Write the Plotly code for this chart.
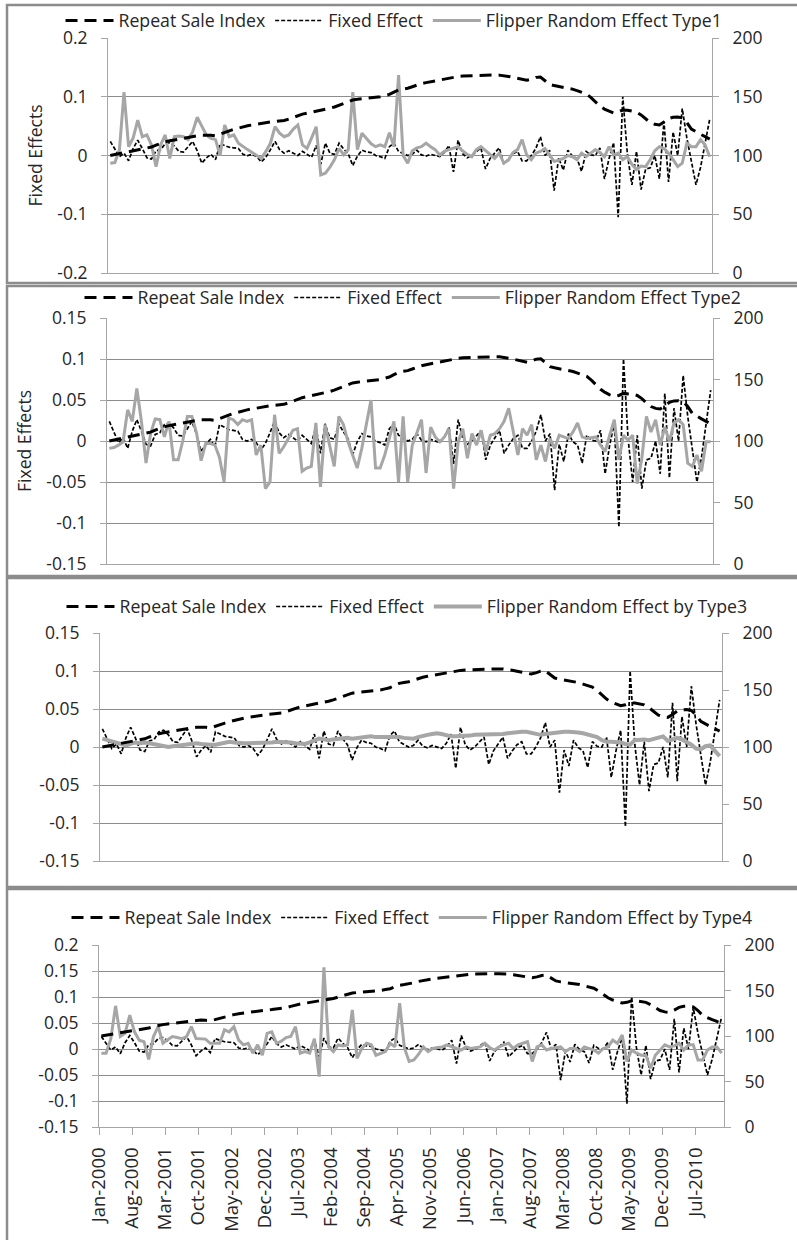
import plotly.graph_objects as go

W, H = 797, 1240

# ---------------- data ----------------
MONTHS = list(range(132))  # Jan-2000 .. Dec-2010

X_TICK_POS = [-0.5, 6.5, 13.5, 20.5, 27.5, 34.5, 41.5, 48.5, 55.5, 62.5,
              69.5, 76.5, 83.5, 90.5, 97.5, 104.5, 111.5, 118.5, 125.5]
X_TICK_LABELS = ["Jan-2000", "Aug-2000", "Mar-2001", "Oct-2001", "May-2002",
                 "Dec-2002", "Jul-2003", "Feb-2004", "Sep-2004", "Apr-2005",
                 "Nov-2005", "Jun-2006", "Jan-2007", "Aug-2007", "Mar-2008",
                 "Oct-2008", "May-2009", "Dec-2009", "Jul-2010"]

REPEAT_SALE_INDEX = [
    100.0, 100.8, 101.8, 102.8, 103.8, 104.6, 105.2, 105.8, 106.5, 107.2,
    108.8, 110.3, 111.6, 112.5, 113.3, 114.0, 114.8, 115.6, 116.2, 116.8,
    117.3, 117.6, 117.3, 116.8, 118.0, 119.5, 121.0, 122.3, 123.5, 124.5,
    125.3, 126.0, 126.8, 127.4, 128.0, 128.6, 129.0, 129.4, 129.8, 131.0,
    132.6, 134.2, 135.2, 136.0, 136.8, 137.5, 138.2, 139.2, 140.2, 141.3,
    142.8, 144.5, 146.2, 147.2, 147.8, 148.2, 148.5, 148.6, 149.2, 150.0,
    151.0, 152.0, 154.0, 155.8, 156.6, 157.2, 158.5, 160.0, 161.2, 162.0,
    162.8, 163.5, 164.2, 165.0, 165.8, 166.5, 167.2, 167.6, 167.8, 168.0,
    168.3, 168.4, 168.5, 168.5, 168.5, 168.4, 168.0, 167.3, 166.5, 165.6,
    164.5, 164.0, 165.0, 166.5, 166.8, 164.0, 160.5, 159.5, 158.8, 158.0,
    157.5, 156.5, 155.2, 153.8, 152.5, 149.5, 146.0, 142.0, 139.5, 137.5,
    136.2, 137.0, 138.7, 138.5, 138.0, 137.0, 134.5, 131.0, 128.0, 126.5,
    126.0, 128.5, 131.5, 132.6, 132.8, 132.0, 128.0, 122.5, 120.0, 118.0,
    116.0, 114.0]

FIXED_EFFECT = [
    0.024, 0.010, -0.002, 0.004, -0.009, 0.012, 0.026, 0.012, -0.004, -0.006,
    0.008, 0.010, 0.020, 0.022, 0.016, 0.007, 0.006, 0.015, 0.024, 0.008,
    -0.013, -0.004, 0.002, -0.007, 0.020, 0.017, 0.014, 0.013, 0.012, 0.002,
    0.000, 0.002, -0.002, -0.011, -0.003, 0.010, 0.024, 0.010, 0.004, 0.008,
    0.004, 0.000, 0.007, 0.002, -0.003, 0.017, -0.015, 0.021, 0.004, 0.002,
    0.021, 0.011, 0.003, -0.017, -0.001, 0.009, 0.006, 0.005, 0.000, -0.002,
    -0.005, 0.015, 0.021, 0.007, 0.003, 0.000, 0.002, 0.009, 0.001, -0.001,
    0.002, 0.000, -0.002, 0.005, 0.017, -0.028, 0.026, 0.003, -0.004, 0.000,
    0.006, 0.013, -0.023, -0.005, 0.004, 0.013, -0.015, -0.005, 0.003, 0.007,
    -0.009, -0.009, 0.000, 0.012, 0.032, 0.000, 0.009, -0.060, -0.004, -0.025,
    0.009, -0.001, -0.005, -0.027, 0.007, 0.001, 0.000, 0.013, -0.040, -0.005,
    0.022, -0.105, 0.100, 0.003, -0.050, 0.007, -0.058, -0.023, -0.021, 0.000,
    -0.040, 0.058, -0.045, 0.040, 0.000, 0.080, 0.030, -0.010, -0.050, -0.020,
    0.020, 0.062]

FLIPPER_TYPE1 = [
    -0.013, -0.012, 0.010, 0.108, 0.015, 0.030, 0.060, 0.032, 0.035, 0.018,
    -0.019, 0.018, 0.035, -0.005, 0.032, 0.033, 0.032, 0.027, 0.040, 0.065,
    0.050, 0.035, 0.029, 0.027, 0.000, 0.052, 0.032, 0.035, 0.021, 0.015,
    0.010, 0.005, 0.000, -0.005, 0.007, 0.021, 0.049, 0.038, 0.032, 0.035,
    0.045, 0.052, 0.018, 0.012, 0.030, 0.049, -0.033, -0.030, -0.020, -0.007,
    0.012, 0.001, 0.010, 0.108, 0.010, 0.038, 0.029, 0.020, 0.015, 0.018,
    0.015, 0.039, 0.015, 0.137, 0.000, -0.013, 0.008, 0.013, 0.015, 0.021,
    0.015, 0.010, 0.001, 0.007, 0.010, 0.012, 0.015, 0.008, 0.002, -0.002,
    0.010, 0.015, 0.008, 0.002, -0.005, 0.004, -0.013, -0.008, 0.005, 0.010,
    0.027, 0.001, -0.007, 0.004, 0.007, 0.012, 0.001, -0.010, -0.008, -0.005,
    0.000, -0.002, -0.007, 0.004, -0.002, 0.004, 0.010, 0.005, -0.002, 0.015,
    0.001, 0.004, -0.007, -0.002, -0.015, -0.024, -0.018, -0.019, -0.007, 0.008,
    0.015, 0.012, 0.004, -0.007, -0.019, -0.013, 0.021, 0.015, 0.015, 0.027,
    0.018, -0.002]

FLIPPER_TYPE2 = [
    -0.009, -0.008, -0.005, -0.001, 0.038, 0.024, 0.064, 0.024, -0.027, 0.009,
    0.027, 0.026, 0.005, 0.024, -0.023, -0.023, 0.000, 0.030, 0.030, 0.010,
    -0.024, -0.003, -0.003, -0.005, -0.020, -0.050, 0.028, 0.026, 0.020, 0.026,
    0.024, 0.026, -0.017, -0.005, -0.058, -0.050, 0.032, -0.015, -0.007, 0.003,
    0.013, 0.015, -0.037, -0.033, -0.031, 0.022, -0.056, 0.020, -0.005, -0.031,
    0.030, 0.020, -0.001, -0.017, -0.033, -0.009, 0.020, 0.050, -0.033, -0.033,
    -0.017, 0.003, 0.024, -0.050, 0.030, -0.050, -0.005, 0.010, 0.026, -0.039,
    0.017, 0.005, -0.001, 0.005, 0.015, -0.058, -0.001, 0.015, -0.021, 0.009,
    -0.005, 0.013, -0.013, 0.007, 0.009, 0.015, 0.024, 0.040, 0.009, -0.017,
    0.015, 0.007, 0.020, -0.023, -0.005, -0.025, 0.003, -0.009, 0.007, 0.005,
    0.003, 0.011, 0.022, 0.005, 0.003, 0.004, 0.005, -0.005, -0.013, 0.007,
    0.026, -0.023, 0.007, 0.001, 0.007, -0.052, -0.021, 0.030, 0.011, 0.026,
    -0.005, 0.017, -0.001, 0.022, 0.026, 0.020, -0.027, -0.031, -0.017, -0.037,
    -0.001, -0.001]

FLIPPER_TYPE3 = [
    0.011, 0.009, 0.007, 0.005, 0.003, 0.002, 0.004, 0.006, 0.005, 0.006,
    0.005, 0.004, 0.002, 0.001, 0.000, 0.001, 0.002, 0.003, 0.004, 0.005,
    0.005, 0.004, 0.003, 0.003, 0.003, 0.004, 0.006, 0.007, 0.006, 0.005,
    0.005, 0.005, 0.005, 0.006, 0.006, 0.005, 0.006, 0.007, 0.007, 0.006,
    0.006, 0.005, 0.005, 0.004, 0.006, 0.009, 0.011, 0.010, 0.009, 0.010,
    0.011, 0.012, 0.012, 0.011, 0.012, 0.013, 0.013, 0.014, 0.013, 0.013,
    0.014, 0.014, 0.013, 0.013, 0.012, 0.011, 0.011, 0.013, 0.015, 0.016,
    0.017, 0.018, 0.017, 0.015, 0.014, 0.014, 0.014, 0.015, 0.015, 0.016,
    0.016, 0.016, 0.016, 0.016, 0.017, 0.017, 0.018, 0.019, 0.019, 0.020,
    0.020, 0.019, 0.017, 0.016, 0.017, 0.018, 0.018, 0.019, 0.020, 0.020,
    0.020, 0.019, 0.018, 0.016, 0.015, 0.013, 0.009, 0.007, 0.007, 0.007,
    0.006, 0.004, 0.003, 0.009, 0.010, 0.010, 0.009, 0.011, 0.013, 0.014,
    0.008, 0.010, 0.012, 0.010, 0.007, 0.003, -0.002, -0.003, 0.001, 0.002,
    -0.005, -0.012]

FLIPPER_TYPE4 = [
    -0.008, -0.008, 0.020, 0.083, 0.024, 0.030, 0.065, 0.033, 0.017, 0.014,
    -0.020, 0.024, 0.043, 0.011, 0.018, 0.024, 0.022, 0.020, 0.024, 0.043,
    0.020, 0.020, 0.019, 0.011, 0.011, 0.011, 0.037, 0.033, 0.043, 0.017,
    0.008, 0.011, -0.008, 0.008, -0.012, 0.030, 0.033, 0.011, 0.015, 0.022,
    0.024, 0.043, -0.008, -0.005, -0.008, 0.020, -0.053, 0.157, 0.004, -0.005,
    0.008, 0.006, 0.008, 0.075, -0.018, 0.001, 0.011, 0.008, -0.012, -0.008,
    -0.005, 0.011, 0.004, 0.088, 0.002, -0.024, -0.021, -0.010, 0.004, -0.005,
    0.001, 0.003, 0.004, 0.008, 0.004, 0.001, -0.002, 0.004, 0.001, 0.002,
    0.004, 0.011, 0.003, -0.002, 0.004, 0.008, 0.011, 0.001, 0.008, 0.011,
    0.014, -0.024, 0.004, 0.008, -0.002, 0.001, 0.003, 0.004, -0.005, 0.001,
    0.001, -0.005, 0.004, 0.001, -0.002, -0.008, 0.001, 0.004, 0.017, 0.011,
    0.027, -0.024, -0.002, -0.008, -0.012, -0.012, -0.037, -0.012, -0.002, 0.008,
    0.004, 0.006, 0.011, -0.002, 0.008, 0.008, -0.021, -0.021, -0.002, 0.004,
    0.004, -0.008]

FLIPPER_NAMES = ["Flipper Random Effect Type1", "Flipper Random Effect Type2",
                 "Flipper Random Effect by Type3", "Flipper Random Effect by Type4"]

LEFT_TICKS = [
    ([-0.2, -0.1, 0, 0.1, 0.2], ["-0.2", "-0.1", "0", "0.1", "0.2"]),
    ([-0.15, -0.1, -0.05, 0, 0.05, 0.1, 0.15],
     ["-0.15", "-0.1", "-0.05", "0", "0.05", "0.1", "0.15"]),
    ([-0.15, -0.1, -0.05, 0, 0.05, 0.1, 0.15],
     ["-0.15", "-0.1", "-0.05", "0", "0.05", "0.1", "0.15"]),
    ([-0.15, -0.1, -0.05, 0, 0.05, 0.1, 0.15, 0.2],
     ["-0.15", "-0.1", "-0.05", "0", "0.05", "0.1", "0.15", "0.2"]),
]
GRID_VALUES = [
    [-0.1, 0, 0.1],
    [-0.1, -0.05, 0, 0.05, 0.1, 0.15],
    [-0.1, -0.05, 0, 0.05, 0.1, 0.15],
    [-0.1, -0.05, 0, 0.05, 0.1, 0.15, 0.2],
]
LEFT_RANGES = [[-0.2, 0.2], [-0.15, 0.15], [-0.15, 0.15], [-0.15, 0.2]]
RIGHT_TICKS = ([0, 50, 100, 150, 200], ["0", "50", "100", "150", "200"])
RIGHT_RANGE = [0, 200]
LEFT_TITLES = ["Fixed Effects", "Fixed Effects", "", ""]

# ---------------- layout geometry (pixels) ----------------
PLOT_BOX = [  # (left, right, top, bottom)
    (108, 712, 38, 273),
    (107, 713, 318, 564),
    (100, 722, 633, 861),
    (99, 724, 945, 1127),
]
PANEL_BOX = [(7, 830, 5, 283), (7, 830, 286, 576), (7, 830, 578, 887), (7, 830, 889, 1260)]
LEGEND_CENTER = [(394, 21), (413, 298), (407, 607), (412, 918)]
FLIPPER_WIDTH = [3, 3, 4, 3]

FONT = "Open Sans"
TXT = "#262626"
GRID = "#8c8c8c"
AXIS = "#a6a6a6"
GRAY = "#a6a6a6"

fig = go.Figure()
flippers = [FLIPPER_TYPE1, FLIPPER_TYPE2, FLIPPER_TYPE3, FLIPPER_TYPE4]

for i in range(4):
    xa = "x" if i == 0 else f"x{i+1}"
    yl = "y" if i == 0 else f"y{2*i+1}"
    yr = f"y{2*i+2}"
    leg = "legend" if i == 0 else f"legend{i+1}"
    fig.add_trace(go.Scatter(x=MONTHS, y=FIXED_EFFECT, name="Fixed Effect", mode="lines",
                             line=dict(color="black", width=1.7, dash="4px,2px"),
                             xaxis=xa, yaxis=yl, legend=leg, legendrank=2))
    fig.add_trace(go.Scatter(x=MONTHS, y=flippers[i], name=FLIPPER_NAMES[i], mode="lines",
                             line=dict(color=GRAY, width=FLIPPER_WIDTH[i]),
                             xaxis=xa, yaxis=yl, legend=leg, legendrank=3))
    fig.add_trace(go.Scatter(x=MONTHS, y=REPEAT_SALE_INDEX, name="Repeat Sale Index", mode="lines",
                             line=dict(color="black", width=3, dash="12px,7px"),
                             xaxis=xa, yaxis=yr, legend=leg, legendrank=1))

layout = dict(
    width=W, height=H, margin=dict(l=0, r=0, t=0, b=0, autoexpand=False),
    paper_bgcolor="white", plot_bgcolor="white",
    font=dict(family=FONT, size=17.5, color=TXT),
    showlegend=True, shapes=[],
)

for i in range(4):
    L, R, T, B = PLOT_BOX[i]
    xkey = "xaxis" if i == 0 else f"xaxis{i+1}"
    ylkey = "yaxis" if i == 0 else f"yaxis{2*i+1}"
    yrkey = f"yaxis{2*i+2}"
    ylname = "y" if i == 0 else f"y{2*i+1}"
    xname = "x" if i == 0 else f"x{i+1}"
    ydom = [1 - B / H, 1 - T / H]
    last = (i == 3)
    layout[xkey] = dict(
        domain=[L / W, R / W], anchor=ylname, range=[-0.5, 131.5], automargin=False,
        showgrid=False, zeroline=False, showline=True, linecolor=AXIS, linewidth=1,
        tickmode="array", tickvals=X_TICK_POS, ticktext=X_TICK_LABELS,
        showticklabels=last, ticks="outside" if last else "", ticklen=7, tickcolor=AXIS,
        tickangle=-90, tickfont=dict(size=18.5, family=FONT, color=TXT),
        ticklabelstandoff=5,
    )
    lv, lt = LEFT_TICKS[i]
    layout[ylkey] = dict(
        domain=ydom, anchor=xname, range=LEFT_RANGES[i], automargin=False,
        tickmode="array", tickvals=lv, ticktext=lt,
        showgrid=False, zeroline=False,
        minor=dict(tickmode="array", tickvals=GRID_VALUES[i], showgrid=True,
                   gridcolor=GRID, gridwidth=1, ticks=""),
        showline=True, linecolor=AXIS, linewidth=1,
        ticks="outside", ticklen=6, tickcolor=AXIS, ticklabelstandoff=10,
        tickfont=dict(size=17.5, family=FONT, color=TXT),
        title=dict(text=LEFT_TITLES[i], standoff=10, font=dict(size=17.5, family=FONT, color=TXT)),
    )
    layout[yrkey] = dict(
        domain=ydom, anchor=xname, overlaying=ylname, side="right", range=RIGHT_RANGE,
        automargin=False,
        tickmode="array", tickvals=RIGHT_TICKS[0], ticktext=RIGHT_TICKS[1],
        showgrid=False, zeroline=False, showline=True, linecolor=AXIS, linewidth=1,
        ticks="outside", ticklen=6, tickcolor=AXIS, ticklabelstandoff=10,
        tickfont=dict(size=17.5, family=FONT, color=TXT),
    )
    lk = "legend" if i == 0 else f"legend{i+1}"
    cx, cy = LEGEND_CENTER[i]
    layout[lk] = dict(
        orientation="h", x=cx / W, y=1 - cy / H, xanchor="center", yanchor="middle",
        bgcolor="rgba(0,0,0,0)", font=dict(size=17.7, family=FONT, color=TXT),
        itemwidth=48, traceorder="normal",
    )
    x0, x1, y0, y1 = PANEL_BOX[i]
    layout["shapes"].append(dict(
        type="rect", xref="paper", yref="paper",
        x0=x0 / W, x1=x1 / W, y0=1 - y1 / H, y1=1 - y0 / H,
        line=dict(color="#8c8c8c", width=2.5), fillcolor="rgba(0,0,0,0)", layer="above",
    ))

fig.update_layout(**layout)
fig.write_html("out.html", config={"displayModeBar": False},
               post_script="document.body.style.margin='0px';")
